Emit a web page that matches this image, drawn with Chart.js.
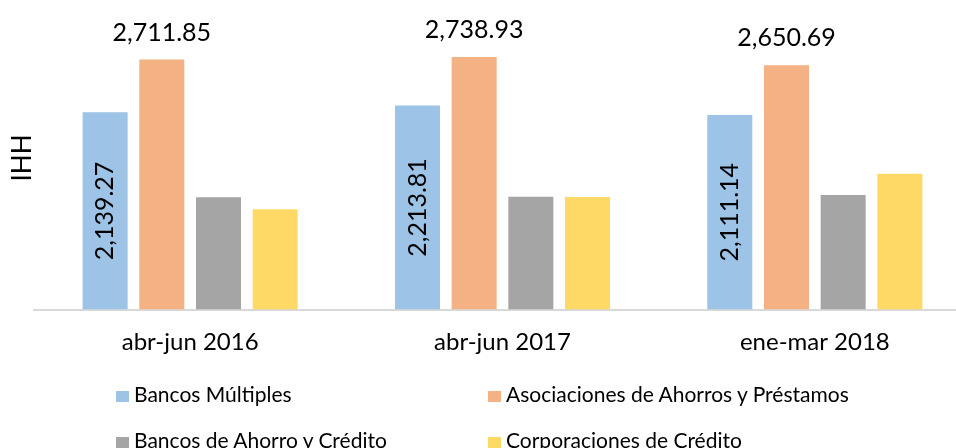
<!DOCTYPE html>
<html>
<head>
<meta charset="utf-8">
<script src="https://cdn.jsdelivr.net/npm/chart.js@4.4.0/dist/chart.umd.min.js"></script>
<style>
  html, body { margin: 0; padding: 0; background: #fff; overflow: hidden; }
  #wrap { position: relative; width: 956px; height: 448px; overflow: hidden; font-family: Lato, sans-serif; }
  #box { position: absolute; left: 0; top: 0; width: 972px; height: 448px; }
  .leg { position: absolute; font-size: 21px; color: #000; white-space: nowrap; line-height: 24px; }
  .leg i { display: inline-block; width: 13px; height: 11px; margin-right: 5px; }
</style>
</head>
<body>
<div id="wrap">
  <div id="box"><canvas id="grafico"></canvas></div>
  <div id="legenda"></div>
</div>
<script>
const periodos = ['abr-jun 2016', 'abr-jun 2017', 'ene-mar 2018'];
const bancosMultiples = [2139.27, 2213.81, 2111.14];
const asociaciones = [2711.85, 2738.93, 2650.69];
const bancosAhorro = [1217, 1224, 1243];
const corporaciones = [1087, 1221, 1474];

const nomes = ['Bancos Múltiples', 'Asociaciones de Ahorros y Préstamos', 'Bancos de Ahorro y Crédito', 'Corporaciones de Crédito'];
const cores = ['#9DC3E6', '#F4B183', '#A5A5A5', '#FFD966'];

const fmt = v => v.toLocaleString('en-US', { minimumFractionDigits: 2, maximumFractionDigits: 2 });

// rotulos das barras (azul dentro, laranja em cima) + titulo IHH
const rotulos = {
  id: 'rotulos',
  afterDatasetsDraw(chart) {
    const ctx = chart.ctx;
    ctx.save();
    ctx.fillStyle = '#000';
    ctx.textAlign = 'center';
    ctx.textBaseline = 'middle';
    ctx.font = '25px Lato, sans-serif';

    chart.getDatasetMeta(1).data.forEach((bar, i) => {
      ctx.fillText(fmt(asociaciones[i]), bar.x, bar.y - 27);
    });

    chart.getDatasetMeta(0).data.forEach((bar, i) => {
      ctx.save();
      ctx.translate(bar.x, (bar.y + bar.base) / 2);
      ctx.rotate(-Math.PI / 2);
      ctx.fillText(fmt(bancosMultiples[i]), 0, 0);
      ctx.restore();
    });

    ctx.save();
    ctx.font = '26px Lato, sans-serif';
    ctx.translate(23, 158);
    ctx.rotate(-Math.PI / 2);
    ctx.fillText('IHH', 0, 0);
    ctx.restore();

    ctx.restore();
  }
};

const series = [bancosMultiples, asociaciones, bancosAhorro, corporaciones];

const grafico = new Chart(document.getElementById('grafico'), {
  type: 'bar',
  data: {
    labels: periodos,
    datasets: series.map((s, i) => ({
      label: nomes[i],
      data: s,
      backgroundColor: cores[i],
      categoryPercentage: 0.726,
      barPercentage: 0.794
    }))
  },
  options: {
    responsive: true,
    maintainAspectRatio: false,
    animation: false,
    layout: { padding: { left: 34, right: 1, top: 33, bottom: 0 } },
    plugins: {
      legend: { display: false },
      tooltip: { enabled: false }
    },
    scales: {
      x: {
        grid: { display: false, drawTicks: false },
        border: { display: true, color: '#D9D9D9', width: 2 },
        ticks: { color: '#000', font: { family: 'Lato', size: 24 }, padding: 18 },
        afterFit: scale => { scale.height = 138.5; }
      },
      y: {
        display: false,
        min: 0,
        max: 3000
      }
    }
  },
  plugins: [rotulos]
});

// legenda em duas colunas
const posicoes = [[116, 382], [488, 382], [116, 428], [488, 428]];
nomes.forEach((n, i) => {
  const d = document.createElement('div');
  d.className = 'leg';
  d.style.left = posicoes[i][0] + 'px';
  d.style.top = posicoes[i][1] + 'px';
  d.innerHTML = `<i style="background:${cores[i]}"></i>${n}`;
  document.getElementById('legenda').appendChild(d);
});
</script>
</body>
</html>
